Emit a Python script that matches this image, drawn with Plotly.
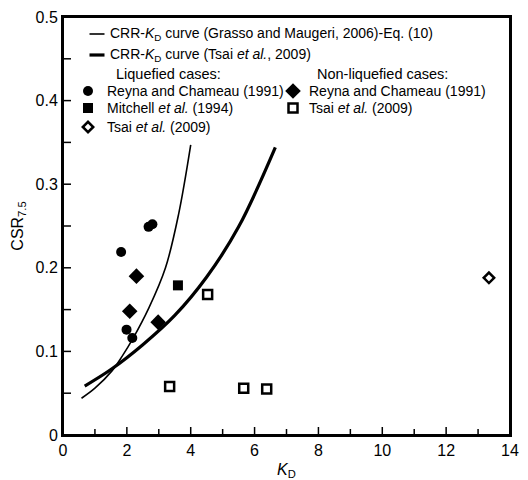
import plotly.graph_objects as go

# ---- data ----
grasso_kd = [0.58, 1.0, 1.54, 1.85, 2.17, 2.69, 3.21, 3.62, 4.0]
grasso_crr = [0.044, 0.056, 0.077, 0.094, 0.114, 0.152, 0.200, 0.264, 0.347]

tsai_curve_kd = [0.68, 1.5, 2.5, 3.5, 4.5, 5.5, 6.65]
tsai_curve_crr = [0.0586, 0.0783, 0.108, 0.143, 0.189, 0.249, 0.344]

liq_reyna_kd = [1.82, 1.99, 2.17, 2.68, 2.80]
liq_reyna_csr = [0.219, 0.126, 0.116, 0.249, 0.252]

liq_mitchell_kd = [3.6]
liq_mitchell_csr = [0.179]

liq_tsai_kd = [13.34]
liq_tsai_csr = [0.188]

nonliq_reyna_kd = [2.09, 2.30, 2.98]
nonliq_reyna_csr = [0.148, 0.190, 0.135]

nonliq_tsai_kd = [3.34, 4.53, 5.66, 6.38]
nonliq_tsai_csr = [0.058, 0.168, 0.056, 0.055]

x_range = [0, 14]
y_range = [0, 0.5]
x_major_ticks = [0, 2, 4, 6, 8, 10, 12, 14]
x_minor_ticks = [1, 3, 5, 7, 9, 11, 13]
y_major_ticks = [0, 0.1, 0.2, 0.3, 0.4, 0.5]
y_minor_ticks = [0.05, 0.15, 0.25, 0.35, 0.45]
y_tick_labels = ["0", "0.1", "0.2", "0.3", "0.4", "0.5"]

FONT = "Arial, Liberation Sans, Helvetica, sans-serif"

W, H = 528, 480
L, R, T, B = 63, 18, 17, 45
pw, ph = W - L - R, H - T - B

# ---- styles ----
thin_line = dict(color="black", width=1.6)
thick_line = dict(color="black", width=3.2)
m_liq_reyna = dict(symbol="circle", size=10, color="black")
m_liq_mitchell = dict(symbol="square", size=10, color="black")
m_liq_tsai = dict(symbol="diamond-open", size=8, color="black", line=dict(width=2.5, color="black"))
m_non_reyna = dict(symbol="diamond", size=12, color="black")
m_non_tsai = dict(symbol="square-open", size=9, color="black", line=dict(width=2.5, color="black"))

fig = go.Figure()

fig.add_trace(go.Scatter(x=grasso_kd, y=grasso_crr, mode="lines",
                         line=dict(shape="spline", **thin_line), showlegend=False))
fig.add_trace(go.Scatter(x=tsai_curve_kd, y=tsai_curve_crr, mode="lines",
                         line=dict(shape="spline", **thick_line), showlegend=False))
fig.add_trace(go.Scatter(x=liq_reyna_kd, y=liq_reyna_csr, mode="markers", marker=m_liq_reyna, showlegend=False))
fig.add_trace(go.Scatter(x=liq_mitchell_kd, y=liq_mitchell_csr, mode="markers", marker=m_liq_mitchell, showlegend=False))
fig.add_trace(go.Scatter(x=liq_tsai_kd, y=liq_tsai_csr, mode="markers", marker=m_liq_tsai, showlegend=False))
fig.add_trace(go.Scatter(x=nonliq_reyna_kd, y=nonliq_reyna_csr, mode="markers", marker=m_non_reyna, showlegend=False))
fig.add_trace(go.Scatter(x=nonliq_tsai_kd, y=nonliq_tsai_csr, mode="markers", marker=m_non_tsai, showlegend=False))

# ---- page-pixel overlay subplot (x3/y3) for the frame, ticks and legend key ----
def xpx(v):
    return L + (v - x_range[0]) / (x_range[1] - x_range[0]) * pw

def ypx(v):
    return H - B - (v - y_range[0]) / (y_range[1] - y_range[0]) * ph

fx0, fx1, fy0, fy1 = xpx(x_range[0]), xpx(x_range[1]), ypx(y_range[0]), ypx(y_range[1])
fig.add_trace(go.Scatter(x=[fx0, fx1, fx1, fx0, fx0], y=[fy0, fy0, fy1, fy1, fy0], mode="lines",
                         line=dict(color="black", width=2), xaxis="x3", yaxis="y3",
                         showlegend=False, hoverinfo="skip"))
tx, ty = [], []
for v in x_major_ticks:
    tx += [xpx(v), xpx(v), None]
    ty += [fy0, fy0 - 8, None]
for v in x_minor_ticks:
    tx += [xpx(v), xpx(v), None]
    ty += [fy0, fy0 - 6, None]
for v in y_major_ticks + y_minor_ticks:
    tx += [fx0, fx0 + 8, None]
    ty += [ypx(v), ypx(v), None]
fig.add_trace(go.Scatter(x=tx, y=ty, mode="lines", line=dict(color="black", width=1.5),
                         xaxis="x3", yaxis="y3", showlegend=False, hoverinfo="skip"))

key_rows = [
    ("line", thin_line, 97, 34, 108, "CRR-<i>K</i><sub>D</sub> curve (Grasso and Maugeri, 2006)-Eq. (10)"),
    ("line", thick_line, 97, 55, 108, "CRR-<i>K</i><sub>D</sub> curve (Tsai <i>et al.</i>, 2009)"),
    ("marker", m_liq_reyna, 88, 91, 105, "Reyna and Chameau (1991)"),
    ("marker", m_liq_mitchell, 88, 108, 105, "Mitchell <i>et al.</i> (1994)"),
    ("marker", m_liq_tsai, 88, 127, 105, "Tsai <i>et al.</i> (2009)"),
    ("marker", m_non_reyna, 293, 91, 307, "Reyna and Chameau (1991)"),
    ("marker", m_non_tsai, 293, 108, 307, "Tsai <i>et al.</i> (2009)"),
]
for kind, style, gx, gy, tx_, text in key_rows:
    if kind == "line":
        fig.add_trace(go.Scatter(x=[gx - 7.5, gx + 7.5], y=[gy, gy], mode="lines", line=style,
                                 xaxis="x3", yaxis="y3", showlegend=False, hoverinfo="skip"))
    else:
        fig.add_trace(go.Scatter(x=[gx], y=[gy], mode="markers", marker=style,
                                 xaxis="x3", yaxis="y3", showlegend=False, hoverinfo="skip"))
    fig.add_annotation(text=text, x=tx_, y=gy, xref="x3", yref="y3", showarrow=False,
                       xanchor="left", yanchor="middle",
                       font=dict(family=FONT, size=14, color="black"))

for text, cx in [("Liquefied cases:", 168), ("Non-liquefied cases:", 382)]:
    fig.add_annotation(text=text, x=cx, y=74, xref="x3", yref="y3", showarrow=False,
                       xanchor="center", yanchor="middle",
                       font=dict(family=FONT, size=14.5, color="black"))

fig.update_layout(
    width=W, height=H,
    margin=dict(l=0, r=0, t=0, b=0, pad=0),
    paper_bgcolor="white", plot_bgcolor="rgba(0,0,0,0)",
    font=dict(family=FONT, size=16, color="black"),
    showlegend=False,
    xaxis=dict(domain=[L / W, (W - R) / W], anchor="y", range=x_range,
               tickmode="array", tickvals=x_major_ticks, ticktext=[str(v) for v in x_major_ticks],
               ticks="", showline=True, linecolor="black", linewidth=2, mirror=True,
               showgrid=False, zeroline=False, automargin=False,
               tickfont=dict(family=FONT, size=16),
               title=dict(text="<i>K</i><sub>D</sub>", font=dict(family=FONT, size=16), standoff=10)),
    yaxis=dict(domain=[B / H, (H - T) / H], anchor="x", range=y_range,
               tickmode="array", tickvals=y_major_ticks, ticktext=y_tick_labels,
               ticks="", showline=True, linecolor="black", linewidth=2, mirror=True,
               showgrid=False, zeroline=False, automargin=False,
               tickfont=dict(family=FONT, size=16),
               title=dict(text="CSR<sub>7.5</sub>", font=dict(family=FONT, size=16), standoff=8)),
    xaxis3=dict(domain=[0, 1], anchor="y3", range=[0, W], visible=False, fixedrange=True),
    yaxis3=dict(domain=[0, 1], anchor="x3", range=[H, 0], visible=False, fixedrange=True),
)

fig.write_html("out.html", config={"displayModeBar": False, "staticPlot": True},
               post_script="document.body.style.margin='0';")
